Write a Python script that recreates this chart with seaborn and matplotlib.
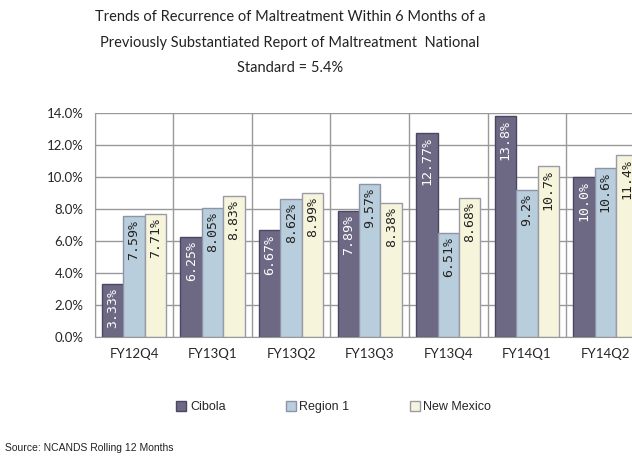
import numpy as np
import pandas as pd
import seaborn as sns
import matplotlib.pyplot as plt
from matplotlib.ticker import PercentFormatter, FixedLocator

# chart data
quarters = ['FY12Q4', 'FY13Q1', 'FY13Q2', 'FY13Q3', 'FY13Q4', 'FY14Q1', 'FY14Q2']
series = ['Cibola', 'Region 1', 'New Mexico']
cibola = [3.33, 6.25, 6.67, 7.89, 12.77, 13.8, 10.0]
region1 = [7.59, 8.05, 8.62, 9.57, 6.51, 9.2, 10.6]
new_mexico = [7.71, 8.83, 8.99, 8.38, 8.68, 10.7, 11.4]
cibola_labels = ['3.33%', '6.25%', '6.67%', '7.89%', '12.77%', '13.8%', '10.0%']
region1_labels = ['7.59%', '8.05%', '8.62%', '9.57%', '6.51%', '9.2%', '10.6%']
nm_labels = ['7.71%', '8.83%', '8.99%', '8.38%', '8.68%', '10.7%', '11.4%']

df = pd.DataFrame({
    'quarter': quarters * 3,
    'series': [series[0]] * 7 + [series[1]] * 7 + [series[2]] * 7,
    'rate': cibola + region1 + new_mexico,
})

sns.set_style('white')
plt.rcParams['font.family'] = ['Lato', 'DejaVu Sans']

fills = ['#6d6984', '#b9cedc', '#f7f4dc']
edges = ['#4c4663', '#8f93a8', '#9a9aa8']
text_colors = ['white', '#222222', '#222222']

fig = plt.figure(figsize=(6.32, 4.58), dpi=100)
ax = fig.add_axes([0.150, 0.264, 0.870, 0.489])

sns.barplot(data=df, x='quarter', y='rate', hue='series', hue_order=series,
            palette=fills, width=0.82, saturation=1, legend=False, ax=ax)

for cont, ec in zip(ax.containers, edges):
    for p in cont:
        p.set_edgecolor(ec)
        p.set_linewidth(1.0)

# rotated value labels inside the top of each bar
for cont, labels, tc in zip(ax.containers, [cibola_labels, region1_labels, nm_labels], text_colors):
    for p, lbl in zip(cont, labels):
        ax.annotate(lbl, (p.get_x() + p.get_width() / 2, p.get_height()),
                    xytext=(0, -3), textcoords='offset points',
                    ha='center', va='top', rotation=90, fontsize=9.5,
                    color=tc, family=['DejaVu Sans Mono', 'DejaVu Sans'])

ax.set_xlim(-0.5, 6.5)
ax.set_ylim(0, 14)
ax.set_yticks(np.arange(0, 15, 2))
ax.yaxis.set_major_formatter(PercentFormatter(decimals=1))
ax.xaxis.set_minor_locator(FixedLocator(np.arange(-0.5, 7, 1)))
ax.grid(axis='y', which='major', color='#999999', lw=1)
ax.grid(axis='x', which='minor', color='#999999', lw=1)
ax.set_axisbelow(True)
ax.tick_params(axis='y', length=5, color='#999999', labelsize=9.5, pad=3)
ax.tick_params(axis='x', which='major', length=0, labelsize=9.5, pad=8)
ax.tick_params(axis='x', which='minor', length=5, color='#999999')
ax.set_xlabel('')
ax.set_ylabel('')
for side in ['top', 'right']:
    ax.spines[side].set_visible(False)
for side in ['left', 'bottom']:
    ax.spines[side].set_color('#999999')

fig.text(0.459, 0.978, 'Trends of Recurrence of Maltreatment Within 6 Months of a\n'
         'Previously Substantiated Report of Maltreatment  National\n'
         'Standard = 5.4%', ha='center', va='top', fontsize=10.5,
         linespacing=2.05, color='#222222')

handles = [plt.Rectangle((0, 0), 1, 1, fc=f, ec=e, lw=1) for f, e in zip(fills, edges)]
fig.legend(handles, series, loc='center', bbox_to_anchor=(0.528, 0.111), ncol=3,
           frameon=False, handlelength=0.8, handleheight=0.8, handletextpad=0.3,
           columnspacing=4.8, prop={'family': 'Liberation Sans', 'size': 9})

fig.text(0.008, 0.012, 'Source: NCANDS Rolling 12 Months', ha='left', va='bottom',
         fontsize=7.5, family='Liberation Sans', color='#222222')

fig.savefig('out.png', dpi=100)
